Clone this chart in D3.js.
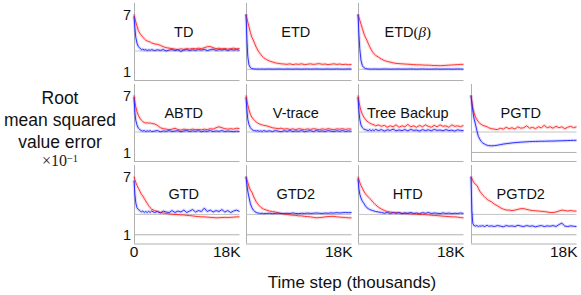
<!DOCTYPE html>
<html>
<head>
<meta charset="utf-8">
<script src="https://cdn.jsdelivr.net/npm/d3@7"></script>
<style>
  body { margin: 0; background: #fff; }
  svg { display: block; }
</style>
</head>
<body>
<svg id="chart" width="581" height="295"></svg>
<script>
// time steps (thousands)
let tK = [0,0.15,0.3,0.5,0.75,1,1.25,1.5,1.75,2,2.25,2.5,2.75,3,
  3.5,4,4.5,5,5.5,6,6.5,7,7.5,8,
  8.5,9,9.5,10,10.5,11,11.5,12,12.5,13,
  13.5,14,14.5,15,15.5,16,16.5,17,17.5,18];

let tdRed = [7.0,6.6,6.2,5.8,5.3,5.0,4.8,4.6,4.45,4.3,4.2,4.15,4.1,4.0,
  3.9,3.85,3.75,3.6,3.5,3.45,3.4,3.35,3.3,3.38,
  3.32,3.4,3.35,3.42,3.38,3.45,3.4,3.5,3.6,3.62,
  3.5,3.4,3.45,3.38,3.42,3.35,3.4,3.45,3.38,3.42];
let tdBlue = [6.8,5.6,4.6,4.0,3.6,3.45,3.3,3.35,3.25,3.3,3.2,3.28,3.22,3.3,
  3.2,3.28,3.22,3.3,3.15,3.25,3.3,3.2,3.28,3.1,
  3.25,3.3,3.2,3.28,3.22,3.3,3.25,3.32,3.2,3.28,
  3.35,3.22,3.3,3.25,3.32,3.2,3.3,3.25,3.3,3.22];

let etdRed = [7.0,6.6,6.2,5.7,5.1,4.6,4.3,3.9,3.55,3.25,3.0,2.8,2.6,2.45,
  2.25,2.1,2.0,1.9,1.85,1.8,1.78,1.75,1.8,1.72,
  1.78,1.75,1.8,1.72,1.76,1.8,1.74,1.78,1.82,1.75,
  1.78,1.72,1.76,1.8,1.74,1.78,1.72,1.76,1.7,1.74];
let etdBlue = [7.0,4.5,2.6,1.7,1.4,1.3,1.28,1.26,1.25,1.26,1.24,1.25,1.26,1.24,
  1.25,1.26,1.24,1.25,1.26,1.25,1.24,1.26,1.25,1.24,
  1.26,1.25,1.24,1.25,1.26,1.24,1.25,1.26,1.25,1.24,
  1.25,1.26,1.24,1.25,1.26,1.25,1.24,1.25,1.26,1.25];

let etdbRed = [7.0,6.7,6.4,6.0,5.5,5.0,4.6,4.3,3.95,3.6,3.3,3.05,2.85,2.7,
  2.5,2.3,2.15,2.05,1.98,1.9,1.85,1.82,1.8,1.78,
  1.76,1.74,1.72,1.7,1.7,1.68,1.66,1.66,1.64,1.62,
  1.62,1.6,1.62,1.64,1.66,1.68,1.7,1.72,1.74,1.75];
let etdbBlue = [7.0,5.0,3.4,2.2,1.6,1.4,1.32,1.28,1.26,1.25,1.24,1.25,1.26,1.25,
  1.24,1.25,1.26,1.25,1.24,1.25,1.25,1.26,1.24,1.25,
  1.25,1.26,1.25,1.24,1.25,1.26,1.25,1.24,1.25,1.25,
  1.26,1.24,1.25,1.25,1.26,1.24,1.25,1.26,1.25,1.24];

let abtdRed = [7.0,6.3,5.8,5.3,4.9,4.6,4.4,4.25,4.15,4.1,4.12,4.08,4.1,4.05,
  4.0,3.85,3.6,3.5,3.45,3.4,3.45,3.55,3.4,3.35,
  3.45,3.4,3.38,3.45,3.4,3.42,3.38,3.45,3.4,3.5,
  3.45,3.6,3.7,3.6,3.5,3.45,3.5,3.45,3.55,3.5];
let abtdBlue = [6.8,5.2,4.4,3.9,3.55,3.4,3.3,3.25,3.3,3.2,3.28,3.22,3.3,3.2,
  3.25,3.3,3.18,3.26,3.22,3.3,3.2,3.25,3.28,3.18,
  3.25,3.3,3.2,3.27,3.22,3.3,3.18,3.25,3.22,3.3,
  3.2,3.26,3.22,3.3,3.2,3.25,3.22,3.18,3.24,3.2];

let vtRed = [7.0,6.5,6.0,5.5,5.0,4.7,4.5,4.35,4.2,4.1,4.0,3.95,3.9,3.85,
  3.8,3.7,3.6,3.55,3.5,3.55,3.45,3.5,3.42,3.48,
  3.4,3.5,3.45,3.4,3.48,3.42,3.5,3.45,3.4,3.48,
  3.42,3.5,3.45,3.4,3.48,3.45,3.5,3.42,3.48,3.45];
let vtBlue = [6.8,5.5,4.5,3.95,3.6,3.42,3.32,3.3,3.25,3.3,3.22,3.28,3.2,3.3,
  3.22,3.28,3.2,3.3,3.24,3.18,3.28,3.22,3.3,3.2,
  3.26,3.22,3.3,3.18,3.25,3.28,3.2,3.3,3.22,3.26,
  3.2,3.3,3.24,3.2,3.28,3.22,3.3,3.2,3.26,3.22];

let tbRed = [7.0,6.4,5.9,5.4,5.0,4.7,4.5,4.3,4.2,4.1,4.0,3.95,3.9,3.8,
  3.9,3.75,3.85,3.65,3.8,3.7,3.9,3.65,3.8,3.7,
  3.95,3.7,3.8,3.65,3.85,3.7,3.9,3.75,3.65,3.85,
  3.7,3.9,3.75,3.8,3.65,3.9,3.75,3.8,3.7,3.85];
let tbBlue = [6.8,5.4,4.5,3.9,3.6,3.45,3.4,3.35,3.3,3.4,3.28,3.38,3.3,3.42,
  3.3,3.4,3.25,3.38,3.32,3.45,3.28,3.36,3.3,3.4,
  3.28,3.42,3.32,3.35,3.25,3.4,3.3,3.38,3.28,3.42,
  3.32,3.36,3.28,3.4,3.3,3.35,3.25,3.38,3.32,3.3];

let pgtdRed = [7.0,6.3,5.7,5.2,4.75,4.45,4.25,4.05,3.95,3.85,3.8,3.75,3.7,3.6,
  3.5,3.45,3.4,3.55,3.45,3.65,3.5,3.6,3.45,3.7,
  3.55,3.6,3.8,3.55,3.65,3.5,3.7,3.6,3.85,3.6,
  3.7,3.55,3.75,3.6,3.7,3.5,3.65,3.75,3.6,3.7];
let pgtdBlue = [7.0,6.2,5.4,4.6,4.0,3.3,2.7,2.4,2.15,2.0,1.9,1.82,1.76,1.72,
  1.7,1.72,1.76,1.82,1.88,1.92,1.96,2.0,2.03,2.06,
  2.08,2.1,2.12,2.14,2.15,2.16,2.17,2.18,2.18,2.19,
  2.2,2.2,2.21,2.22,2.23,2.24,2.25,2.26,2.27,2.28];

let gtdRed = [7.0,6.7,6.4,6.1,5.8,5.5,5.2,5.0,4.75,4.5,4.25,4.0,3.8,3.65,
  3.5,3.4,3.3,3.25,3.2,3.15,3.12,3.1,3.08,3.05,
  3.05,3.0,2.98,2.95,2.9,2.88,2.85,2.85,2.82,2.8,
  2.78,2.75,2.76,2.78,2.8,2.78,2.8,2.82,2.85,2.85];
let gtdBlue = [6.6,5.2,4.3,3.8,3.6,3.5,3.35,3.45,3.3,3.4,3.3,3.42,3.3,3.45,
  3.3,3.4,3.25,3.45,3.35,3.3,3.5,3.3,3.45,3.35,
  3.55,3.3,3.45,3.6,3.35,3.5,3.4,3.75,3.4,3.55,
  3.35,3.5,3.4,3.6,3.35,3.5,3.3,3.45,3.55,3.4];

let gtd2Red = [7.0,6.7,6.4,6.0,5.6,5.4,5.0,4.7,4.4,4.2,4.0,3.85,3.75,3.65,
  3.55,3.45,3.4,3.35,3.25,3.2,3.15,3.1,3.05,3.02,
  3.0,2.95,2.95,2.9,2.88,2.85,2.8,2.75,2.78,2.8,
  2.85,2.88,2.9,2.9,2.85,2.82,2.8,2.78,2.75,2.75];
let gtd2Blue = [7.0,6.2,5.5,4.9,4.2,3.8,3.55,3.4,3.3,3.25,3.22,3.2,3.22,3.18,
  3.2,3.22,3.18,3.2,3.24,3.2,3.18,3.22,3.2,3.25,
  3.2,3.18,3.22,3.2,3.24,3.2,3.22,3.25,3.22,3.2,
  3.24,3.22,3.26,3.24,3.28,3.25,3.28,3.3,3.28,3.3];

let htdRed = [7.0,6.7,6.4,6.1,5.8,5.5,5.25,5.05,4.9,4.75,4.6,4.4,4.25,4.1,
  3.85,3.65,3.5,3.4,3.35,3.3,3.28,3.25,3.22,3.2,
  3.18,3.15,3.15,3.12,3.1,3.1,3.08,3.05,3.02,3.0,
  2.98,2.95,2.92,2.9,2.88,2.85,2.85,2.82,2.78,2.75];
let htdBlue = [6.8,5.8,5.2,4.8,4.45,4.25,4.0,3.8,3.7,3.6,3.55,3.5,3.45,3.4,
  3.35,3.3,3.22,3.3,3.2,3.28,3.22,3.3,3.18,3.26,
  3.22,3.3,3.2,3.25,3.18,3.28,3.22,3.3,3.2,3.25,
  3.22,3.18,3.26,3.2,3.24,3.18,3.22,3.2,3.25,3.2];

let pgtd2Red = [7.0,6.8,6.6,6.4,6.2,6.1,5.8,5.5,5.3,5.1,4.95,4.8,4.65,4.55,
  4.4,4.15,4.0,3.8,3.65,3.55,3.55,3.5,3.55,3.62,
  3.7,3.7,3.62,3.55,3.5,3.48,3.45,3.42,3.4,3.35,
  3.3,3.3,3.35,3.45,3.55,3.5,3.45,3.5,3.45,3.45];
let pgtd2Blue = [7.0,3.5,2.2,1.95,1.9,1.95,1.85,1.92,1.88,1.95,1.85,1.9,1.98,1.88,
  1.92,1.85,1.95,1.9,1.82,1.95,1.88,1.92,1.85,1.98,
  1.9,1.85,1.95,1.88,1.92,1.82,1.9,1.95,1.85,1.92,
  1.88,1.95,1.85,2.05,2.2,1.9,1.85,1.92,1.88,1.85];

// best-achievable reference level per panel
let titles = ['TD', 'ETD', 'ETD', 'ABTD', 'V-trace', 'Tree Backup', 'PGTD', 'GTD', 'GTD2', 'HTD', 'PGTD2'];
let refLevels = [3.15, 1.22, 1.22, 3.15, 3.15, 3.15, 3.15, 3.1, 3.1, 3.1, 3.1];
let yTicks = [7, 1];
let xTickLabels = ['0', '18K'];

let svg = d3.select('#chart');

let panels = [
  { title: titles[0], red: tdRed, blue: tdBlue, ref: refLevels[0], row: 0, col: 0 },
  { title: titles[1], red: etdRed, blue: etdBlue, ref: refLevels[1], row: 0, col: 1 },
  { title: titles[2], beta: true, red: etdbRed, blue: etdbBlue, ref: refLevels[2], row: 0, col: 2 },
  { title: titles[3], red: abtdRed, blue: abtdBlue, ref: refLevels[3], row: 1, col: 0 },
  { title: titles[4], red: vtRed, blue: vtBlue, ref: refLevels[4], row: 1, col: 1 },
  { title: titles[5], red: tbRed, blue: tbBlue, ref: refLevels[5], row: 1, col: 2 },
  { title: titles[6], red: pgtdRed, blue: pgtdBlue, ref: refLevels[6], row: 1, col: 3, oneLine: true },
  { title: titles[7], red: gtdRed, blue: gtdBlue, ref: refLevels[7], row: 2, col: 0, oneLine: true },
  { title: titles[8], red: gtd2Red, blue: gtd2Blue, ref: refLevels[8], row: 2, col: 1, oneLine: true },
  { title: titles[9], red: htdRed, blue: htdBlue, ref: refLevels[9], row: 2, col: 2, oneLine: true },
  { title: titles[10], red: pgtd2Red, blue: pgtd2Blue, ref: refLevels[10], row: 2, col: 3, oneLine: true }
];

let colX = [134, 246, 358, 471];
let rowY = [3, 84, 165];
let rowH = [77, 77, 78.5];
let pw = 105.5;

let sans = 'Liberation Sans, Arial, Helvetica, sans-serif';
let serif = 'Liberation Serif, DejaVu Serif, serif';
let axisColor = '#b0b0b0';
let redColor = 'rgb(255,35,35)';
let blueColor = 'rgb(30,30,255)';

panels.forEach(p => {
    let h = rowH[p.row];
    let g = svg.append('g').attr('transform', `translate(${colX[p.col]},${rowY[p.row]})`);
    let x = d3.scaleLinear().domain([0, 18]).range([0, pw]);
    let y = d3.scaleLinear().domain([0.1, 8.2]).range([h, 0]);

    // axes frame
    g.append('line').attr('x1', 0.5).attr('x2', 0.5).attr('y1', 0).attr('y2', h)
        .attr('stroke', axisColor).attr('stroke-width', 1);
    g.append('line').attr('x1', 0).attr('x2', pw).attr('y1', h + 0.5).attr('y2', h + 0.5)
        .attr('stroke', axisColor).attr('stroke-width', 1);
    if (p.oneLine)
        g.append('line').attr('x1', 0).attr('x2', pw).attr('y1', y(1)).attr('y2', y(1))
            .attr('stroke', axisColor).attr('stroke-width', 1);
    g.append('line').attr('x1', 0).attr('x2', pw).attr('y1', y(p.ref)).attr('y2', y(p.ref))
        .attr('stroke', '#c4c4c4').attr('stroke-width', 1);

    // title
    let t = g.append('text')
        .attr('x', pw / 2 - 3).attr('y', 34)
        .attr('text-anchor', 'middle')
        .attr('font-family', sans).attr('font-size', 14.5).attr('fill', '#111')
        .text(p.title);
    if (p.beta) {
        t.append('tspan').attr('font-family', serif).attr('font-size', 15).text('(');
        t.append('tspan').attr('font-family', serif).attr('font-style', 'italic').attr('font-size', 15).text('β');
        t.append('tspan').attr('font-family', serif).attr('font-size', 15).text(')');
    }

    let line = d3.line()
        .x((d, i) => x(tK[i]))
        .y(d => y(d));

    // faint spread bands then mean curves
    [[p.red, redColor], [p.blue, blueColor]].forEach(s => {
        g.append('path').attr('d', line(s[0]))
            .attr('fill', 'none').attr('stroke', s[1]).attr('stroke-width', 3.2)
            .attr('stroke-opacity', 0.16).attr('stroke-linejoin', 'round');
    });
    [[p.red, redColor], [p.blue, blueColor]].forEach(s => {
        g.append('path').attr('d', line(s[0]))
            .attr('fill', 'none').attr('stroke', s[1]).attr('stroke-width', 1)
            .attr('stroke-opacity', 0.9).attr('stroke-linejoin', 'round');
    });

    // y tick labels in first column
    if (p.col == 0) {
        g.selectAll('.ytick').data(yTicks).enter().append('text')
            .attr('x', -3).attr('y', d => y(d) + 5.2)
            .attr('text-anchor', 'end')
            .attr('font-family', sans).attr('font-size', 14.5).attr('fill', '#111')
            .text(d => d);
    }
    // x tick labels on bottom row
    if (p.row == 2) {
        if (p.col == 0)
            g.append('text').attr('x', x(0)).attr('y', h + 13.5)
                .attr('text-anchor', 'middle')
                .attr('font-family', sans).attr('font-size', 15.5).attr('fill', '#111')
                .text(xTickLabels[0]);
        g.append('text').attr('x', x(18) + 1).attr('y', h + 13.5)
            .attr('text-anchor', 'end')
            .attr('font-family', sans).attr('font-size', 15.5).attr('fill', '#111')
            .text(xTickLabels[1]);
    }
});

// y axis title
let yLab = ['Root', 'mean squared', 'value error'];
svg.append('g').selectAll('text').data(yLab).enter().append('text')
    .attr('x', 60).attr('y', (d, i) => 104 + i * 22)
    .attr('text-anchor', 'middle')
    .attr('font-family', sans).attr('font-size', 17.5).attr('fill', '#111')
    .text(d => d);
let sc = svg.append('text').attr('x', 60).attr('y', 166)
    .attr('text-anchor', 'middle')
    .attr('font-family', serif).attr('font-size', 16).attr('fill', '#222');
sc.append('tspan').text('×10');
sc.append('tspan').attr('dy', -4).attr('font-size', 10.5).text('−1');

// x axis title
svg.append('text').attr('x', 352).attr('y', 288)
    .attr('text-anchor', 'middle')
    .attr('font-family', sans).attr('font-size', 17).attr('fill', '#111')
    .text('Time step (thousands)');
</script>
</body>
</html>
